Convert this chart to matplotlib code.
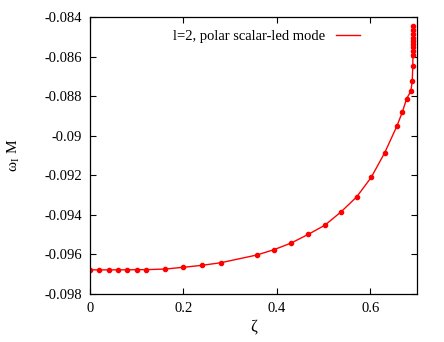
import matplotlib

matplotlib.use("Agg")
import matplotlib.pyplot as plt
from matplotlib.ticker import FormatStrFormatter, MultipleLocator

# zeta values and imaginary part of the frequency
zeta = [
    0.0, 0.02, 0.04, 0.06, 0.08, 0.10, 0.12, 0.16, 0.20, 0.24, 0.28,
    0.357, 0.394, 0.431, 0.467, 0.503, 0.537, 0.571, 0.602, 0.631, 0.657,
    0.669, 0.678, 0.687, 0.690, 0.6912, 0.6915, 0.6916, 0.6917, 0.6918,
    0.6919, 0.692, 0.692, 0.692, 0.692,
]
omega_i = [
    -0.09678, -0.09678, -0.09678, -0.09678, -0.09678, -0.09677, -0.09677,
    -0.09674, -0.09665, -0.09655, -0.09642, -0.09603, -0.09576, -0.09542,
    -0.09499, -0.09452, -0.09386, -0.09309, -0.09211, -0.09086, -0.08952,
    -0.08879, -0.08812, -0.08775, -0.08723, -0.08647, -0.08590, -0.08570,
    -0.08550, -0.08535, -0.08520, -0.08505, -0.08485, -0.08465, -0.08445,
]
legend_label = "l=2, polar scalar-led mode"

plt.rcParams["font.family"] = ["Liberation Serif", "DejaVu Serif"]
plt.rcParams["mathtext.fontset"] = "custom"
plt.rcParams["mathtext.rm"] = "Liberation Serif"

figure = plt.figure(figsize=(4.44, 3.42), dpi=100)
axis = figure.add_axes((0.2027, 0.1404, 0.7363, 0.8096))

axis.plot(zeta, omega_i, color="#ff0000", linewidth=1.0, label=legend_label)
axis.plot(zeta, omega_i, linestyle="none", marker="o", markersize=3.0,
          color="#ff0000")

axis.set_xlim(0, 0.7)
axis.set_ylim(-0.098, -0.084)
axis.xaxis.set_major_locator(MultipleLocator(0.2))
axis.yaxis.set_major_locator(MultipleLocator(0.002))
axis.xaxis.set_major_formatter(FormatStrFormatter("%g"))
axis.yaxis.set_major_formatter(FormatStrFormatter("%g"))
axis.tick_params(direction="in", length=4, width=0.8, labelsize=10.5,
                 top=True, right=True, pad=6)
for spine in axis.spines.values():
    spine.set_linewidth(0.9)

axis.set_xlabel("ζ", fontsize=12, labelpad=2)
axis.set_ylabel(r"ω$_{\rm I}$ M", fontsize=11, labelpad=16)

axis.legend(loc="upper right", frameon=False, markerfirst=False,
            fontsize=10.5, handlelength=1.6, handletextpad=0.8,
            bbox_to_anchor=(0.865, 1.0))

figure.savefig("out.png", dpi=100)
plt.close(figure)
